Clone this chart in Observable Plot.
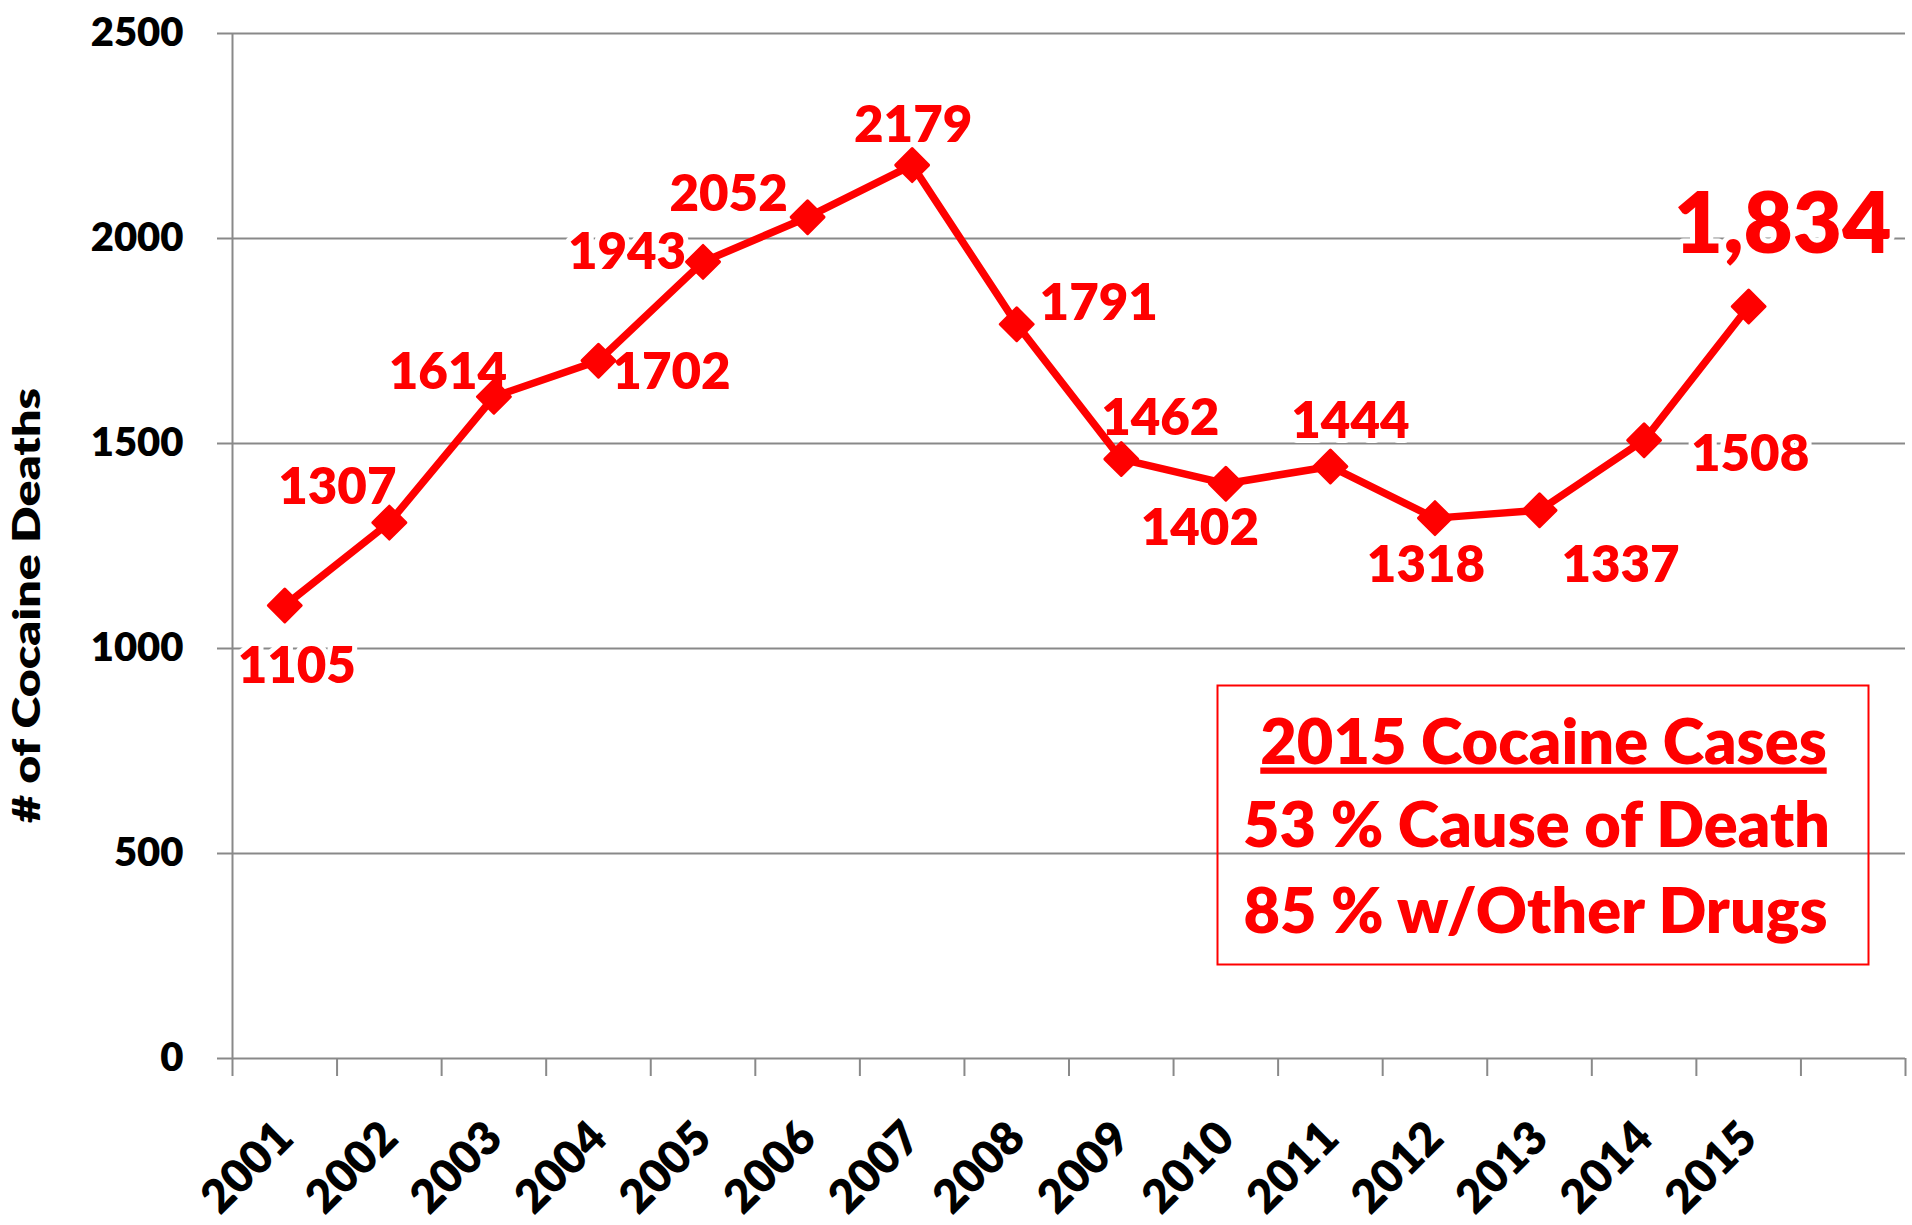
<!DOCTYPE html>
<html>
<head>
<meta charset="utf-8">
<script src="https://cdn.jsdelivr.net/npm/d3@7"></script>
<script src="https://cdn.jsdelivr.net/npm/@observablehq/plot@0.6"></script>
<style>
  html, body { margin: 0; padding: 0; background: #fff; }
  #chart { width: 1912px; height: 1225px; }
</style>
</head>
<body>
<div id="chart"></div>
<script>
// ---- data ----
const years = [2001, 2002, 2003, 2004, 2005, 2006, 2007, 2008, 2009, 2010, 2011, 2012, 2013, 2014, 2015];
const deaths = [1105, 1307, 1614, 1702, 1943, 2052, 2179, 1791, 1462, 1402, 1444, 1318, 1337, 1508, 1834];
const yTicks = [0, 500, 1000, 1500, 2000, 2500];
const yTitle = "# of Cocaine Deaths";
const noteLines = ["2015 Cocaine Cases", "53 % Cause of Death", "85 % w/Other Drugs"];

// ---- label placement (pixel offsets of each value label from its point) ----
const labelOffsets = [
  [12, 78], [-52, -19], [-46, -8], [73, 28], [-76, 7], [-79, -6], [1, -23], [82, -4],
  [39, -24], [-26, 61], [20, -28], [-9, 64], [81, 72], [106, 31], [34, -54]
];

const RED = "#ff0000";
const GRID = "#898989";
const slots = years.length + 1; // one empty category slot at the right end
const points = years.map((year, i) => ({year, value: deaths[i], pos: i + 0.5}));
const last = points.length - 1;

const W = 1912, H = 1225;
const mL = 232, mR = 7, mT = 33, mB = 167;
const frameCy = (mT + (H - mB)) / 2;

const marks = [
  Plot.gridY(yTicks, {stroke: GRID, strokeOpacity: 1, strokeWidth: 2}),
  Plot.axisY(yTicks, {
    anchor: "left", label: null, tickSize: 15, tickPadding: 34,
    stroke: GRID, strokeWidth: 2, fill: "black", fontSize: 40,
    tickFormat: d => String(d)
  }),
  Plot.ruleX([0], {stroke: GRID, strokeWidth: 2}),
  Plot.axisX(d3.range(slots + 1), {
    anchor: "bottom", label: null, tickSize: 18, stroke: GRID, strokeWidth: 2,
    tickFormat: () => ""
  }),
  Plot.text(points, {
    x: "pos", frameAnchor: "bottom", text: d => String(d.year),
    rotate: -45, textAnchor: "end", lineAnchor: "bottom",
    dx: 11, dy: 82, fontSize: 46, fill: "black"
  }),
  Plot.text([yTitle], {
    frameAnchor: "left", text: d => d, rotate: -90, textAnchor: "middle", lineAnchor: "middle",
    dx: 27 - mL, dy: 605 - frameCy, fontSize: 38, fill: "black"
  }),
  // value labels (white halo breaks gridlines like the label boxes do)
  ...points.map((p, i) => Plot.text([p], {
    x: "pos", y: "value",
    text: d => i === last ? d3.format(",")(d.value) : String(d.value),
    dx: labelOffsets[i][0], dy: labelOffsets[i][1],
    textAnchor: "middle", lineAnchor: "bottom",
    fontSize: i === last ? 85 : 51, fill: RED, stroke: "white", strokeWidth: 10
  })),
  Plot.line(points, {x: "pos", y: "value", stroke: RED, strokeWidth: 7.5}),
  Plot.dot(points, {
    x: "pos", y: "value", symbol: "diamond2", r: 14.8,
    fill: RED, stroke: RED, strokeWidth: 3, strokeLinejoin: "round"
  }),
  // annotation box
  Plot.frame({stroke: RED, strokeWidth: 2, insetLeft: 985, insetRight: 37, insetTop: 652, insetBottom: 94}),
  Plot.text([noteLines[0]], {frameAnchor: "top-left", text: d => d, textAnchor: "middle", lineAnchor: "bottom",
    dx: 1543 - mL, dy: 763 - mT, fontSize: 63, fill: RED}),
  Plot.text([noteLines[1]], {frameAnchor: "top-left", text: d => d, textAnchor: "middle", lineAnchor: "bottom",
    dx: 1536 - mL, dy: 846 - mT, fontSize: 63, fill: RED}),
  Plot.text([noteLines[2]], {frameAnchor: "top-left", text: d => d, textAnchor: "middle", lineAnchor: "bottom",
    dx: 1535 - mL, dy: 932 - mT, fontSize: 63, fill: RED})
];

const chart = Plot.plot({
  width: W, height: H,
  marginLeft: mL, marginRight: mR, marginTop: mT, marginBottom: mB,
  x: {type: "linear", domain: [0, slots], axis: null},
  y: {domain: [0, 2500], axis: null},
  style: {fontFamily: "Lato, 'Open Sans', sans-serif", fontWeight: 800, background: "white", overflow: "visible"},
  marks
});

const texts = [...chart.querySelectorAll("text")];
const title = texts.find(t => t.textContent === noteLines[0]);
if (title) { title.style.textDecoration = "underline"; }
const yt = texts.find(t => t.textContent === yTitle);
if (yt) { yt.setAttribute("textLength", 435); yt.setAttribute("lengthAdjust", "spacingAndGlyphs"); }

document.getElementById("chart").appendChild(chart);
</script>
</body>
</html>
